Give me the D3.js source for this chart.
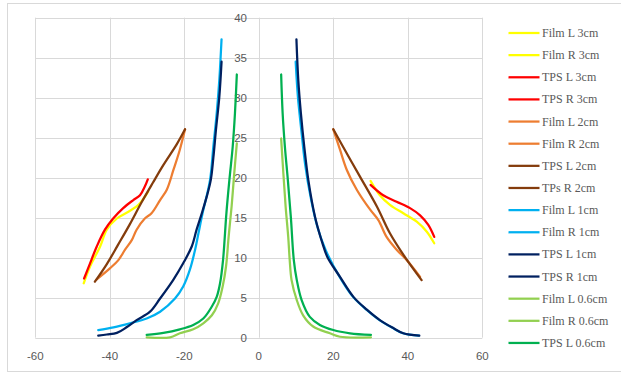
<!DOCTYPE html>
<html><head><meta charset="utf-8">
<script src="https://cdn.jsdelivr.net/npm/d3@7"></script>
<style>body{margin:0;background:#fff}svg{display:block}</style>
</head><body>
<svg id="c" width="621" height="380"></svg>
<script>
// ---- data ----
const xTicks = [-60, -40, -20, 0, 20, 40, 60];
const yTicks = [0, 5, 10, 15, 20, 25, 30, 35, 40];

const filmL3 = [[-47.0,6.8],[-45.3,8.9],[-42.6,11.4],[-40.8,13.5],[-38.1,14.9],[-35.0,15.75],[-32.3,16.6],[-29.7,18.25]];
const filmR3 = [[30.0,19.6],[32.5,17.8],[35.2,16.6],[38.8,15.55],[42.4,14.5],[45.1,13.25],[47.1,11.8]];
const tpsL3 = [[-46.9,7.4],[-45.3,9.3],[-43.5,11.4],[-41.3,13.5],[-39.1,14.9],[-36.4,16.2],[-33.7,17.2],[-31.9,17.8],[-30.6,18.9],[-29.8,19.8]];
const tpsR3 = [[30.0,19.1],[33.4,17.8],[37.0,17.0],[40.6,16.2],[43.3,15.3],[45.5,14.1],[47.1,12.6]];
const filmL2 = [[-43.5,7.3],[-39.9,8.7],[-37.7,9.7],[-35.9,11.0],[-34.1,12.2],[-32.8,13.5],[-30.6,14.9],[-28.8,15.55],[-26.5,17.2],[-24.7,18.5],[-22.9,21.0],[-21.2,23.5],[-19.8,26.05]];
const filmR2 = [[20.0,26.05],[21.8,23.5],[23.6,21.0],[26.3,18.5],[29.9,16.0],[32.1,14.7],[34.3,12.6],[37.0,11.0],[39.7,9.7],[43.3,7.6]];
const tpsL2 = [[-44.0,7.0],[-40.8,9.2],[-37.8,11.6],[-34.6,14.2],[-31.5,16.9],[-28.4,19.4],[-25.6,21.6],[-22.0,24.2],[-19.8,26.05]];
const tpsR2 = [[20.0,26.05],[23.6,23.05],[27.2,20.1],[31.7,16.4],[35.2,13.05],[39.2,10.1],[43.7,7.2]];
const filmL1 = [[-43.1,0.96],[-39.0,1.3],[-34.6,1.8],[-30.1,2.4],[-26.5,3.25],[-22.5,4.9],[-20.3,6.4],[-18.5,8.5],[-17.1,11.0],[-16.2,13.05],[-15.1,15.55],[-13.1,19.7],[-12.2,23.9],[-11.3,28.05],[-10.6,32.2],[-10.0,37.3]];
const filmR1 = [[9.9,34.5],[10.5,30.1],[11.4,26.0],[12.4,21.8],[13.9,17.6],[15.7,13.9],[17.9,11.0],[21.7,7.6],[25.3,5.1],[28.9,3.5],[32.4,2.2],[36.0,1.2],[38.7,0.55],[43.0,0.25]];
const tpsL1 = [[-43.1,0.25],[-40.8,0.4],[-38.1,0.6],[-35.5,1.3],[-32.8,2.2],[-29.2,3.25],[-26.5,4.9],[-23.0,7.2],[-20.3,9.3],[-18.0,11.4],[-16.7,13.5],[-15.3,15.55],[-14.0,17.6],[-12.9,19.7],[-12.2,22.5],[-11.5,26.0],[-10.6,30.1],[-10.0,34.5]];
const tpsR1 = [[10.1,37.3],[10.6,32.2],[11.3,28.05],[12.2,23.9],[13.3,19.7],[15.1,15.1],[17.1,11.8],[18.4,10.1],[21.8,7.6],[25.4,5.1],[29.0,3.5],[32.5,2.2],[36.1,1.2],[38.8,0.55],[43.1,0.25]];
const filmL06 = [[-30.1,0.05],[-23.8,0.05],[-21.2,0.55],[-17.6,1.05],[-14.9,1.8],[-12.6,2.8],[-10.9,4.3],[-9.7,6.4],[-8.8,8.9],[-8.1,12.6],[-7.3,16.4],[-6.6,20.5],[-5.9,24.3]];
const filmR06 = [[6.0,24.9],[6.6,20.5],[7.2,16.4],[7.9,12.6],[8.3,9.7],[8.8,7.2],[10.2,4.7],[11.9,2.8],[14.6,1.4],[19.1,0.55],[21.8,0.12],[30.1,0.05]];
const tpsL06 = [[-30.1,0.34],[-25.6,0.6],[-21.2,1.05],[-17.6,1.6],[-14.9,2.4],[-12.6,3.9],[-11.3,5.1],[-10.4,6.8],[-9.6,9.7],[-8.7,15.55],[-7.9,19.7],[-7.0,23.9],[-6.4,28.05],[-5.9,32.9]];
const tpsR06 = [[6.0,32.9],[6.4,28.05],[7.0,23.9],[7.8,19.7],[8.6,15.1],[9.4,9.7],[10.2,7.2],[11.5,4.7],[13.7,2.6],[16.4,1.6],[20.0,0.96],[24.5,0.55],[30.1,0.34]];

const seriesNames = ["Film L 3cm","Film R 3cm","TPS L 3cm","TPS R 3cm","Film L 2cm","Film R 2cm","TPS L 2cm","TPs R 2cm","Film L 1cm","Film R 1cm","TPS L 1cm","TPS R 1cm","Film L 0.6cm","Film R 0.6cm","TPS L 0.6cm","TPS R 0.6cm"];
const seriesData = [filmL3, filmR3, tpsL3, tpsR3, filmL2, filmR2, tpsL2, tpsR2, filmL1, filmR1, tpsL1, tpsR1, filmL06, filmR06, tpsL06, tpsR06];
const seriesColors = ["#FFFF00","#FFFF00","#FF0000","#FF0000","#ED7D31","#ED7D31","#843C0C","#843C0C","#00B0F0","#00B0F0","#002060","#002060","#92D050","#92D050","#00B050","#00B050"];
const legendCount = 15;

// ---- chart ----
const svg = d3.select("#c");
const x = d3.scaleLinear().domain([-60, 60]).range([35.3, 482.3]);
const y = d3.scaleLinear().domain([0, 40]).range([337.7, 17.7]);

// outer border
svg.append("rect").attr("x", 7.5).attr("y", 3.5).attr("width", 640).attr("height", 368)
  .attr("fill", "none").attr("stroke", "#D9D9D9").attr("stroke-width", 1);

const grid = svg.append("g").attr("stroke", "#D9D9D9").attr("stroke-width", 1);
yTicks.forEach(t => grid.append("line").attr("x1", x(-60)).attr("x2", x(60))
  .attr("y1", Math.round(y(t)) + 0.5).attr("y2", Math.round(y(t)) + 0.5));
xTicks.forEach(t => grid.append("line").attr("y1", y(0)).attr("y2", y(40))
  .attr("x1", Math.round(x(t)) + 0.5).attr("x2", Math.round(x(t)) + 0.5));

const font = "'Liberation Sans', Arial, sans-serif";
svg.append("g").selectAll("text").data(xTicks).join("text")
  .attr("x", d => x(d)).attr("y", 360).attr("text-anchor", "middle")
  .attr("font-family", font).attr("font-size", 11.5).attr("fill", "#595959")
  .text(d => d);
svg.append("g").selectAll("text").data(yTicks).join("text")
  .attr("x", 247).attr("y", d => y(d) + 4).attr("text-anchor", "end")
  .attr("font-family", font).attr("font-size", 11.5).attr("fill", "#595959")
  .text(d => d);

const line = d3.line().x(d => x(d[0])).y(d => y(d[1])).curve(d3.curveCatmullRom.alpha(0.5));
const drawOrder = d3.range(seriesData.length);
svg.append("g").selectAll("path").data(drawOrder).join("path")
  .attr("d", i => line(seriesData[i]))
  .attr("fill", "none").attr("stroke", i => seriesColors[i])
  .attr("stroke-width", 2.25).attr("stroke-linejoin", "round").attr("stroke-linecap", "round");

// legend
const lg = svg.append("g");
for (let i = 0; i < legendCount; i++) {
  const ly = 33 + i * 22.14;
  lg.append("line").attr("x1", 508.5).attr("x2", 539.5).attr("y1", ly).attr("y2", ly)
    .attr("stroke", seriesColors[i]).attr("stroke-width", 2.25);
  lg.append("text").attr("x", 542).attr("y", ly + 4)
    .attr("font-family", "'Liberation Serif', 'Times New Roman', serif").attr("font-size", 12)
    .attr("fill", "#595959").text(seriesNames[i]);
}
</script>
</body></html>
